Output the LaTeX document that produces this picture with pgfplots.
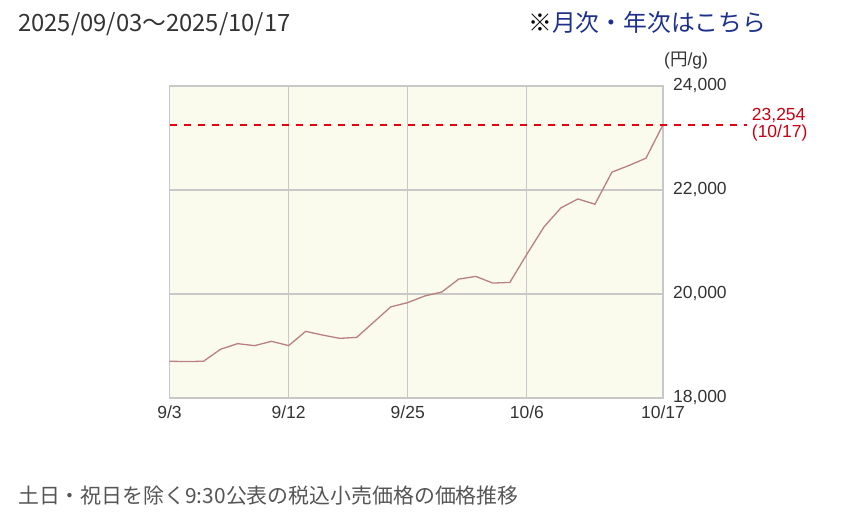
\documentclass[border=0pt]{standalone}
\usepackage{pgfplots}
\pgfplotsset{compat=1.18}
\usepackage{fontspec}
\setmainfont{Liberation Sans}
\newfontfamily\cjk{Noto Sans CJK JP}

\definecolor{bgcol}{RGB}{251,251,237}
\definecolor{gridcol}{RGB}{200,200,200}
\definecolor{linecol}{RGB}{184,128,128}
\definecolor{dashcol}{RGB}{230,0,18}
\definecolor{labred}{RGB}{200,0,20}
\definecolor{txt}{RGB}{51,51,51}
\definecolor{linkblue}{RGB}{28,48,140}
\definecolor{notegray}{RGB}{85,85,85}

\begin{document}
\begin{tikzpicture}
\useasboundingbox (0,0) rectangle (858bp,523bp);

% titles
\node[anchor=base west, inner sep=0pt, text=txt] at (18bp,491bp)
  {\cjk\fontsize{23.8bp}{26bp}\selectfont 2025/09/03～2025/10/17};
\node[anchor=base west, inner sep=0pt, text=linkblue] at (528bp,491bp)
  {\cjk\fontsize{23.8bp}{26bp}\selectfont {\color{black}※}月次・年次はこちら};
\node[anchor=base west, inner sep=0pt, text=notegray] at (18bp,20bp)
  {\cjk\fontsize{20.9bp}{24bp}\selectfont 土日・祝日を除く9:30公表の税込小売価格の価格推移};
\node[anchor=base west, inner sep=0pt, text=txt] at (664bp,457bp)
  {\fontsize{17.5bp}{20bp}\selectfont ({\cjk 円}/g)};

\begin{axis}[
    at={(169.5bp,125bp)}, anchor=south west,
    scale only axis,
    width=493.5bp, height=312bp,
    xmin=0, xmax=29,
    ymin=18000, ymax=24000,
    xtick={0,7,14,21,29},
    xticklabels={9/3,9/12,9/25,10/6,10/17},
    ytick={18000,20000,22000,24000},
    scaled y ticks=false,
    yticklabel pos=right,
    major tick length=0pt,
    grid=major,
    major grid style={draw=gridcol, line width=1.2bp},
    axis line style={draw=gridcol, line width=1.5bp},
    axis background/.style={fill=bgcol},
    clip=false,
    /pgf/number format/.cd, fixed, 1000 sep={,}, assume math mode=true,
    /pgfplots/.cd,
    ticklabel style={font=\fontsize{17.5bp}{20bp}\selectfont, text=txt},
    xticklabel style={anchor=north, inner sep=0pt, yshift=-8bp},
    yticklabel style={anchor=west, inner sep=0pt, xshift=10bp},
]
\addplot[linecol, line width=1.3bp] coordinates {
  (0,18707) (1,18700) (2,18707) (3,18937) (4,19045) (5,19007)
  (6,19090) (7,19007) (8,19281) (9,19210) (10,19147) (11,19166)
  (12,19459) (13,19752) (14,19835) (15,19962) (16,20038) (17,20287)
  (18,20338) (19,20210) (20,20223) (21,20765) (22,21287) (23,21656)
  (24,21828) (25,21726) (26,22344) (27,22471) (28,22612) (29,23254)
};
\addplot[dashcol, line width=2bp, dash pattern=on 7bp off 7bp] coordinates {
  (0,23254) (33.92,23254)
};
\node[anchor=west, inner sep=0pt, xshift=5bp, align=left, text=labred,
      font=\fontsize{17.5bp}{17bp}\selectfont]
  at (axis cs:33.92,23254) {23,254\\(10/17)};
\end{axis}
\end{tikzpicture}
\end{document}
